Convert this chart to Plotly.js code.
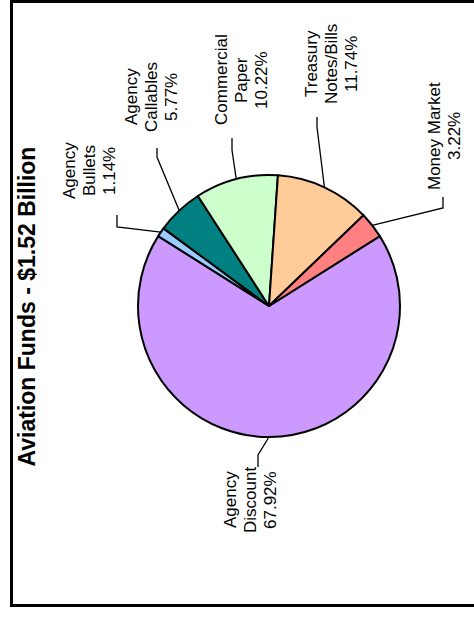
<!DOCTYPE html>
<html><head><meta charset="utf-8">
<script src="https://cdn.plot.ly/plotly-3.0.1.min.js"></script>
<style>
html,body{margin:0;padding:0;background:#fff;overflow:hidden;width:474px;height:619px}
#chart{position:absolute;left:0;top:0;width:474px;height:619px;}
#frame{position:absolute;left:10px;top:0;width:464px;height:607px;border-top:3px solid #000;border-left:3px solid #000;border-bottom:3px solid #000;border-right:0;box-sizing:border-box;pointer-events:none}
</style>
</head><body><div id="chart"></div><div id="frame"></div>
<script>
const categories = ["Agency Discount","Agency Bullets","Agency Callables","Commercial Paper","Treasury Notes/Bills","Money Market"];
const labelLines = [["Agency","Discount"],["Agency","Bullets"],["Agency","Callables"],["Commercial","Paper"],["Treasury","Notes/Bills"],["Money Market"]];
const values = [67.92,1.14,5.77,10.22,11.74,3.22];
const colors = ["#CC99FF","#99CCFF","#008080","#CCFFCC","#FFCC99","#FF8080"];
const chartTitle = "Aviation Funds - $1.52 Billion";

const W=474,H=619;
const cx=269, cy=306, R=131;
const pitch=20;
const labelPos = [
 {x:230, y:500, elbow:[258,455], end:[258,467]},
 {x:69,  y:171, elbow:[117,227], end:[117,215]},
 {x:131, y:97,  elbow:[157,157], end:[157,148]},
 {x:221, y:80,  elbow:[232,150], end:[232,138]},
 {x:311, y:64,  elbow:[317,127], end:[317,117]},
 {x:434, y:136, elbow:[443,208], end:[443,197]}
];

const total = values.reduce((a,b)=>a+b,0);
const rotation = 180 - 180*values[0]/total;

const lx=[], ly=[];
let acc=0;
values.forEach((v,i)=>{
  const mid = rotation + 360*(acc + v/2)/total;
  acc += v;
  const a = mid*Math.PI/180;
  const px = cx + R*Math.sin(a), py = cy - R*Math.cos(a);
  const p = labelPos[i];
  lx.push(px, p.elbow[0], p.end[0], null);
  ly.push(py, p.elbow[1], p.end[1], null);
});

const font = {family:"Liberation Sans, Arial, sans-serif", size:17, color:"#000"};
const annotations = [];
categories.forEach((c,i)=>{
  const lines = labelLines[i].concat([values[i].toFixed(2)+"%"]);
  lines.forEach((t,j)=>{
    annotations.push({x:labelPos[i].x + j*pitch, y:labelPos[i].y, xref:"x", yref:"y",
      text:t, showarrow:false, textangle:-90, xanchor:"center", yanchor:"middle", font:font});
  });
});
annotations.push({x:26.5, y:307, xref:"x", yref:"y", text:"<b>"+chartTitle+"</b>", showarrow:false,
  textangle:-90, xanchor:"center", yanchor:"middle",
  font:{family:"Liberation Sans, Arial, sans-serif", size:23, color:"#000"}});

const data = [
  {type:"pie", labels:categories, values:values, sort:false, direction:"clockwise", rotation:rotation,
   marker:{colors:colors, line:{color:"#000", width:2}}, textinfo:"none", hoverinfo:"label+percent",
   showlegend:false,
   domain:{x:[(cx-R)/W,(cx+R)/W], y:[(H-cy-R)/H,(H-cy+R)/H]}},
  {type:"scatter", mode:"lines", x:lx, y:ly, line:{color:"#000", width:1.3}, hoverinfo:"skip", showlegend:false}
];

const layout = {
  width:W, height:H, margin:{l:0,r:0,t:0,b:0}, paper_bgcolor:"#fff", plot_bgcolor:"rgba(0,0,0,0)",
  showlegend:false,
  xaxis:{range:[0,W], visible:false, fixedrange:true},
  yaxis:{range:[H,0], visible:false, fixedrange:true},
  annotations:annotations
};
Plotly.newPlot("chart", data, layout, {displayModeBar:false, staticPlot:true});
</script></body></html>
